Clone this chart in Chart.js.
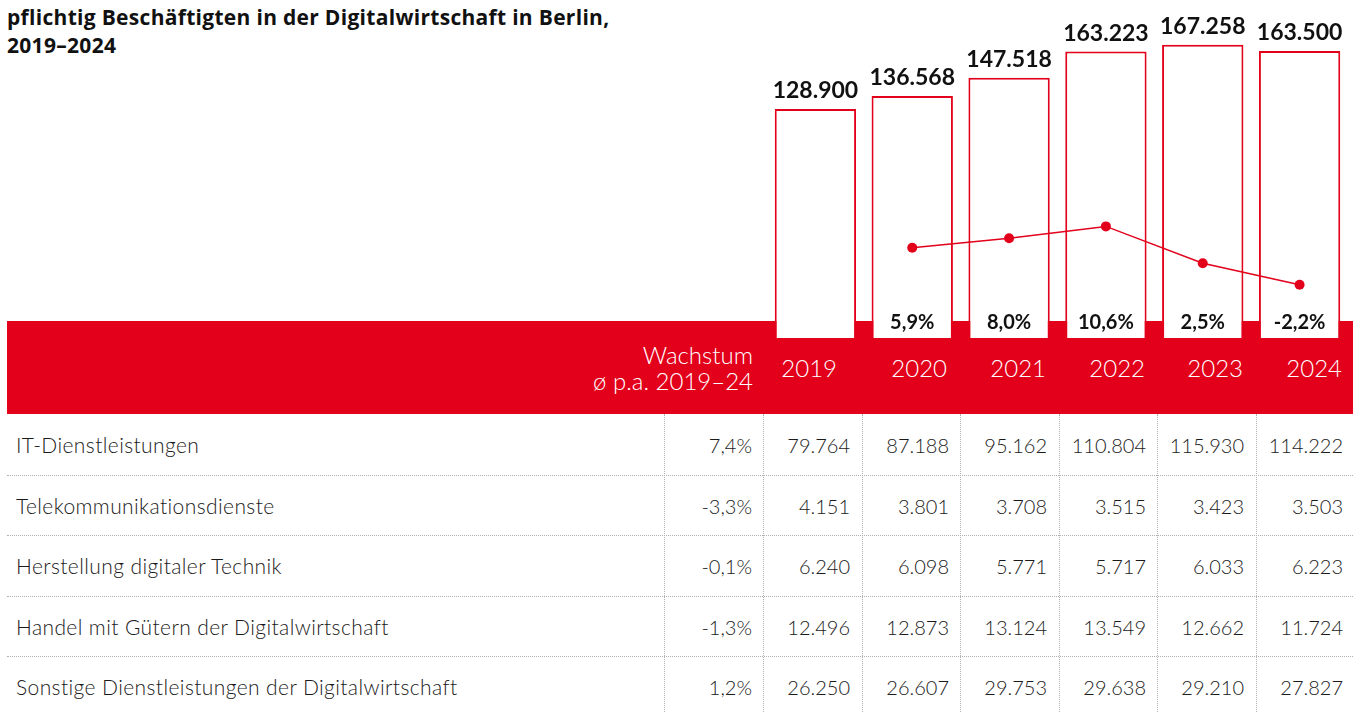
<!DOCTYPE html>
<html>
<head>
<meta charset="utf-8">
<script src="https://cdn.jsdelivr.net/npm/chart.js@4.4.1/dist/chart.umd.min.js"></script>
<style>
  body { margin: 0; width: 1367px; height: 712px; overflow: hidden; background: #fff; font-family: Lato, "Open Sans", sans-serif; color: #1a1a1a; position: relative; }
  #title { position: absolute; left: 7px; top: 3px; font-family: "Open Sans", sans-serif; font-weight: 700; font-size: 21px; line-height: 28px; letter-spacing: 0.3px; color: #111; }
  #band { position: absolute; left: 7px; top: 321px; width: 1346px; height: 93px; background: #e3001b; }
  .hd { position: absolute; color: #fff; font-weight: 300; font-size: 24px; line-height: 26px; text-align: right; white-space: nowrap; }
  .cell { position: absolute; font-weight: 300; font-size: 20px; line-height: 24px; white-space: nowrap; color: #1a1a1a; }
  .lbl { font-size: 21px; letter-spacing: 0.4px; }
  .num { text-align: right; }
  .hline { position: absolute; left: 7px; width: 1346px; height: 0; border-top: 1px dotted #b0b0b0; }
  .vline { position: absolute; top: 414px; height: 298px; width: 0; border-left: 1px dotted #b0b0b0; }
  #chartWrap { position: absolute; left: 762px; top: 0; width: 591px; height: 343px; pointer-events: none; }
</style>
</head>
<body>
<div id="title">pflichtig Beschäftigten in der Digitalwirtschaft in Berlin,<br>2019–2024</div>
<div id="band"></div>
<div id="table"></div>
<div id="chartWrap"><canvas id="chart" width="591" height="343"></canvas></div>
<script>
const years = ["2019", "2020", "2021", "2022", "2023", "2024"];
const totals = [128900, 136568, 147518, 163223, 167258, 163500];
const growth = [null, 5.9, 8.0, 10.6, 2.5, -2.2];

const rowLabels = [
  "IT-Dienstleistungen",
  "Telekommunikationsdienste",
  "Herstellung digitaler Technik",
  "Handel mit Gütern der Digitalwirtschaft",
  "Sonstige Dienstleistungen der Digitalwirtschaft",
];
const rowGrowth = ["7,4%", "-3,3%", "-0,1%", "-1,3%", "1,2%"];
const itDienste = [79764, 87188, 95162, 110804, 115930, 114222];
const telekom = [4151, 3801, 3708, 3515, 3423, 3503];
const herstellung = [6240, 6098, 5771, 5717, 6033, 6223];
const handel = [12496, 12873, 13124, 13549, 12662, 11724];
const sonstige = [26250, 26607, 29753, 29638, 29210, 27827];
const rowValues = [itDienste, telekom, herstellung, handel, sonstige];

const red = "#e3001b";
const W = 1367;

function fmt(n) {
  return n.toLocaleString("de-DE");
}
function pct(n) {
  return n.toFixed(1).replace(".", ",") + "%";
}

// header band + table below the bars
function buildTable() {
  const t = document.getElementById("table");
  let html = "";
  html += `<div class="hd" style="right:${W - 753}px;top:342px;">Wachstum<br>ø p.a. 2019–24</div>`;
  const yearRight = [837, 947, 1046, 1145, 1243, 1342];
  years.forEach((y, i) => {
    html += `<div class="hd" style="right:${W - yearRight[i]}px;top:355px;">${y}</div>`;
  });

  const rowTop = 414, rowH = 60.6;
  rowLabels.forEach((label, r) => {
    const top = Math.round(rowTop + r * rowH + 19);
    html += `<div class="cell lbl" style="left:16px;top:${top}px;">${label}</div>`;
    html += `<div class="cell num" style="right:${W - 752}px;top:${top}px;">${rowGrowth[r]}</div>`;
    rowValues[r].forEach((v, i) => {
      html += `<div class="cell num" style="right:${W - Math.round(850 + i * 98.5)}px;top:${top}px;">${fmt(v)}</div>`;
    });
    if (r > 0) html += `<div class="hline" style="top:${Math.round(rowTop + r * rowH)}px;"></div>`;
  });
  [664, 763, 861.5, 960, 1058.5, 1157, 1255.5].forEach((x) => {
    html += `<div class="vline" style="left:${Math.round(x)}px;"></div>`;
  });
  t.innerHTML = html;
}
buildTable();

const labelPlugin = {
  id: "labels",
  afterDatasetsDraw(chart) {
    const ctx = chart.ctx;
    const bars = chart.getDatasetMeta(1).data;
    const yScale = chart.scales.y;
    ctx.save();
    ctx.fillStyle = "#111";
    ctx.textAlign = "center";
    ctx.textBaseline = "alphabetic";
    ctx.font = "700 23px Lato";
    bars.forEach((bar, i) => {
      ctx.fillText(fmt(totals[i]), bar.x, yScale.getPixelForValue(totals[i]) - 11);
    });
    ctx.font = "700 20px Lato";
    ctx.textBaseline = "middle";
    bars.forEach((bar, i) => {
      if (growth[i] !== null) ctx.fillText(pct(growth[i]), bar.x, 323);
    });
    ctx.restore();
  },
};

new Chart(document.getElementById("chart"), {
  data: {
    labels: years,
    datasets: [
      {
        type: "line",
        data: growth,
        yAxisID: "y2",
        borderColor: red,
        backgroundColor: red,
        borderWidth: 1.5,
        pointRadius: 5,
        pointBorderWidth: 0,
        tension: 0,
        order: 1,
      },
      {
        type: "bar",
        data: totals,
        yAxisID: "y",
        backgroundColor: "#fff",
        borderColor: red,
        borderWidth: 2,
        base: -8250,
        barPercentage: 0.84,
        categoryPercentage: 1,
        order: 2,
      },
    ],
  },
  options: {
    responsive: false,
    animation: false,
    layout: { padding: 0 },
    plugins: { legend: { display: false }, tooltip: { enabled: false } },
    scales: {
      x: { display: false, offset: true },
      y: { display: false, min: -8250, max: 191100 },
      y2: { display: false, min: -13.9, max: 59.2 },
    },
  },
  plugins: [labelPlugin],
});
</script>
</body>
</html>
